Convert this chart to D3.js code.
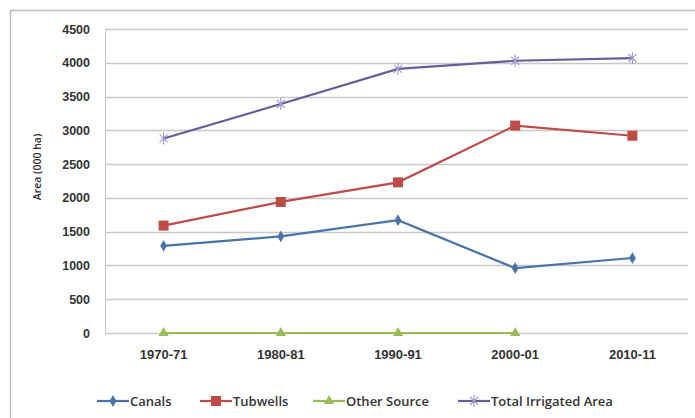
<!DOCTYPE html>
<html>
<head>
<meta charset="utf-8">
<script src="https://cdn.jsdelivr.net/npm/d3@7"></script>
<style>
  body { margin: 0; background: #fff; }
  svg { display: block; font-family: "Open Sans", "Liberation Sans", sans-serif; }
</style>
</head>
<body>
<svg id="chart" width="695" height="418"></svg>
<script>
// chart data
const categories = ["1970-71", "1980-81", "1990-91", "2000-01", "2010-11"];
const canals = [1290, 1430, 1670, 960, 1110];
const tubwells = [1590, 1940, 2230, 3070, 2920];
const otherSource = [0, 0, 0, 0, null];
const totalIrrigated = [2880, 3390, 3910, 4030, 4070];
const yTicks = [0, 500, 1000, 1500, 2000, 2500, 3000, 3500, 4000, 4500];

const series = [
    { name: "Canals", values: canals, color: "#4a74a8", marker: "diamond" },
    { name: "Tubwells", values: tubwells, color: "#be4b48", marker: "square" },
    { name: "Other Source", values: otherSource, color: "#9bbb59", marker: "triangle" },
    { name: "Total Irrigated Area", values: totalIrrigated, color: "#675d9c", marker: "star" }
];

const svg = d3.select("#chart");
const margin = { top: 29, right: 4, bottom: 85, left: 105 };
const width = 695 - margin.left - margin.right;
const height = 418 - margin.top - margin.bottom;

// outer chart border
svg.append("rect")
    .attr("x", 10.5).attr("y", 10.5)
    .attr("width", 700).attr("height", 420)
    .attr("fill", "none")
    .attr("stroke", "#bdbdbd")
    .attr("stroke-width", 1.5);

const g = svg.append("g")
    .attr("transform", `translate(${margin.left}, ${margin.top})`);

const x = d3.scaleBand()
    .domain(categories)
    .range([0, width])
    .padding(0);

const y = d3.scaleLinear()
    .domain([0, 4500])
    .range([height, 0]);

// gridlines
g.append("g")
    .selectAll("line")
    .data(yTicks)
    .join("line")
    .attr("x1", 0).attr("x2", width - 3)
    .attr("y1", d => Math.round(y(d)) + 0.5)
    .attr("y2", d => Math.round(y(d)) + 0.5)
    .attr("stroke", "#c8c8c8")
    .attr("stroke-width", 1.3);

// left axis line
g.append("line")
    .attr("x1", 0.5).attr("x2", 0.5)
    .attr("y1", 0).attr("y2", height)
    .attr("stroke", "#c8c8c8");

// y axis labels
const yAxis = g.append("g")
    .call(d3.axisLeft(y).tickValues(yTicks).tickFormat(d3.format("d")).tickSize(0).tickPadding(15));
yAxis.select(".domain").remove();
yAxis.selectAll("text")
    .attr("font-size", 12.5)
    .attr("font-weight", 600)
    .attr("fill", "#333");

// x axis labels
const xAxis = g.append("g")
    .attr("transform", `translate(0, ${height})`)
    .call(d3.axisBottom(x).tickSize(0).tickPadding(17));
xAxis.select(".domain").remove();
xAxis.selectAll("text")
    .attr("font-size", 13)
    .attr("font-weight", 600)
    .attr("fill", "#333");

// y axis title
svg.append("text")
    .attr("transform", "translate(41, 167) rotate(-90)")
    .attr("text-anchor", "middle")
    .attr("font-size", 10.5)
    .attr("font-weight", 600)
    .attr("fill", "#333")
    .text("Area (000 ha)");

const cx = c => x(c) + x.bandwidth() / 2;

const line = d3.line()
    .defined(d => d.v !== null)
    .x(d => cx(d.c))
    .y(d => y(d.v));

function drawMarker(sel, type, color) {
    if (type === "diamond") {
        sel.append("path").attr("d", d3.symbol(d3.symbolDiamond, 40)()).attr("fill", color);
    } else if (type === "square") {
        sel.append("rect").attr("x", -5).attr("y", -5).attr("width", 10).attr("height", 10).attr("fill", color);
    } else if (type === "triangle") {
        sel.append("path").attr("d", d3.symbol(d3.symbolTriangle, 45)()).attr("fill", color);
    } else if (type === "star") {
        sel.append("path").attr("d", "M-4,-4L4,4M-4,4L4,-4M0,-6L0,6")
            .attr("stroke", "#a69ccd").attr("stroke-width", 1.2).attr("fill", "none");
    }
}

series.forEach(s => {
    const pts = categories.map((c, i) => ({ c, v: s.values[i] }));
    g.append("path")
        .datum(pts)
        .attr("fill", "none")
        .attr("stroke", s.color)
        .attr("stroke-width", 2.2)
        .attr("d", line);
    pts.filter(p => p.v !== null).forEach(p => {
        const m = g.append("g").attr("transform", `translate(${cx(p.c)}, ${y(p.v)})`);
        drawMarker(m, s.marker, s.color);
    });
});

// legend
const legendPos = [97, 200, 313, 458];
const legend = svg.append("g").attr("transform", "translate(0, 401)");
series.forEach((s, i) => {
    const lg = legend.append("g").attr("transform", `translate(${legendPos[i]}, 0)`);
    lg.append("line").attr("x1", 0).attr("x2", 32).attr("y1", 0).attr("y2", 0)
        .attr("stroke", s.color).attr("stroke-width", 2.2);
    const m = lg.append("g").attr("transform", "translate(16, 0)");
    drawMarker(m, s.marker, s.color);
    lg.append("text")
        .attr("x", 33).attr("y", 4.5)
        .attr("font-size", 13)
        .attr("font-weight", 600)
        .attr("fill", "#333")
        .text(s.name);
});
</script>
</body>
</html>
